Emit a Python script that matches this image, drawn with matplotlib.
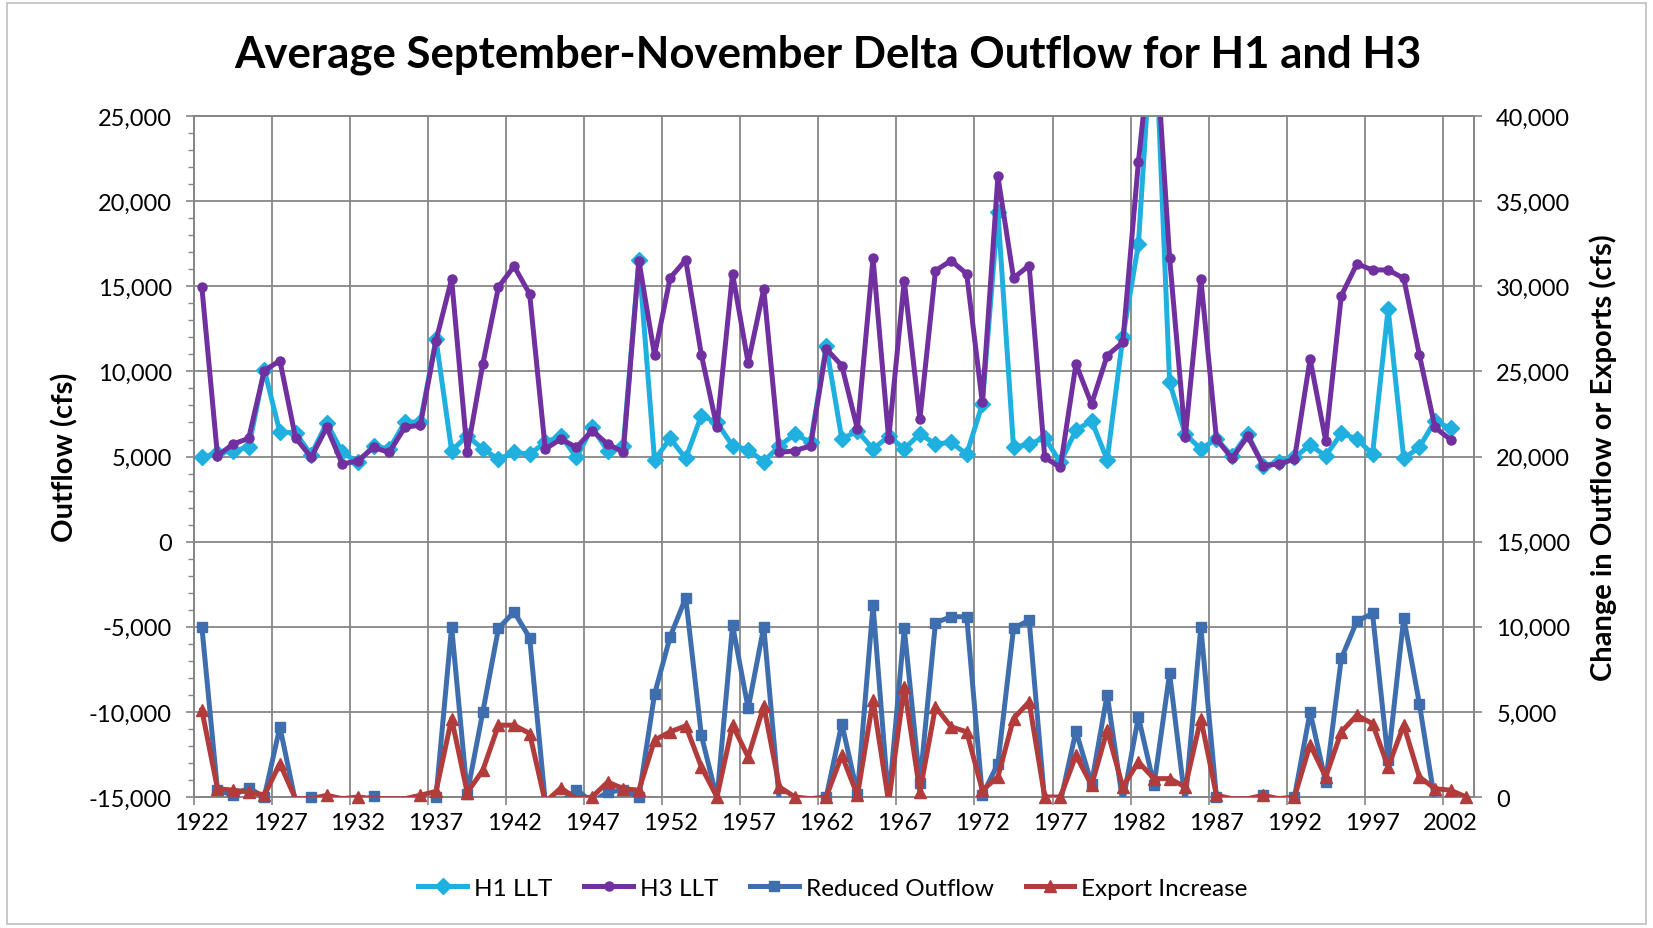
import numpy as np
import matplotlib
matplotlib.use("Agg")
import matplotlib.pyplot as plt
from matplotlib.lines import Line2D
from matplotlib.patches import Rectangle
from matplotlib.ticker import FuncFormatter, MultipleLocator, FixedLocator

plt.rcParams['font.family'] = ['Lato', 'DejaVu Sans']

# Water years 1922-2003
years = list(range(1922, 2004))

# Primary axis (cfs) - H1 / H3 outflow, nan = no value
h1_llt = [4950, 5200, 5340, 5540, 10100, 6420, 6400, 5100, 6970, 5240,
          4650, 5630, 5440, 7000, 7040, 11900, 5340, 6220, 5440, 4850,
          5240, 5140, 5830, 6220, 4950, 6710, 5340, 5630, 16550, 4790,
          6070, 4890, 7400, 7000, 5630, 5400, 4700, 5630, 6320, 5830,
          11510, 6030, 6500, 5440, 6190, 5460, 6320, 5740, 5830, 5140,
          8080, 19350, 5540, 5730, 6110, 4650, 6550, 7100, 4810, 12000,
          17460, 32000, 9360, 6320, 5440, 6030, 5040, 6320, 4460, 4650,
          4950, 5670, 5040, 6360, 6030, 5140, 13670, 4890, 5540, 7100,
          6650, np.nan]
h3_llt = [14950, 5050, 5730, 6070, 10050, 10630, 6100, 4950, 6710, 4560,
          4750, 5540, 5240, 6710, 6850, 11800, 15430, 5240, 10440, 14950,
          16180, 14550, 5440, 6030, 5540, 6520, 5730, 5270, 16510, 10960,
          15490, 16550, 10980, 6710, 15730, 10500, 14850, 5240, 5340, 5630,
          11320, 10340, 6610, 16650, 6030, 15330, 7200, 15920, 16510, 15730,
          8180, 21450, 15490, 16220, 4950, 4360, 10440, 8080, 10930, 11710,
          22300, 31000, 16650, 6120, 15430, 6030, 4890, 6190, 4460, 4560,
          4850, 10730, 5930, 14450, 16320, 15960, 15960, 15470, 10980, 6710,
          5990, np.nan]

# Secondary axis (cfs) - change in outflow / exports (negatives fall below the axis)
reduced_outflow = [10000, 400, 100, 530, 0, 4120, -300, 0, -300, -300,
                   -300, 50, -300, -300, -300, 0, 10000, 200, 5000, 9900,
                   10880, 9350, -300, -300, 430, -300, 300, 400, 0, 6040,
                   9410, 11700, 3630, -100, 10100, 5200, 10000, -300, -300, -300,
                   0, 4310, 200, 11270, -300, 9900, 800, 10240, 10590, 10590,
                   100, 1960, 9900, 10390, -300, -300, 3870, 790, 6020, -300,
                   4710, 690, 7260, -300, 10000, 0, -300, -300, 140, -300,
                   0, 5000, 880, 8140, 10330, 10780, 2160, 10530, 5490, -300,
                   np.nan, np.nan]
export_increase = [5100, 490, 400, 300, 100, 1960, -100, -100, 100, -100,
                   0, -100, -100, -100, 100, 330, 4610, 260, 1570, 4220,
                   4220, 3730, -300, 530, -100, 0, 880, 490, 400, 3340,
                   3830, 4180, 1770, 0, 4220, 2350, 5350, 590, 0, -100,
                   0, 2450, 100, 5690, -300, 6470, 300, 5300, 4120, 3830,
                   400, 1180, 4610, 5590, 0, 0, 2450, 690, 3920, 590,
                   2060, 1080, 1080, 590, 4610, 100, -100, -100, 100, -100,
                   0, 3080, 1180, 3830, 4800, 4310, 1770, 4220, 1180, 490,
                   400, 0]

x = np.arange(len(years))
grid_col = "#868686"

fig = plt.figure(figsize=(16.53, 9.29), dpi=100)
ax = fig.add_axes([0.1174, 0.141, 0.7743, 0.733])
ax2 = ax.twinx()


def draw(a, vals, color, marker, ms, lo, hi, z):
    y = np.array(vals, dtype=float)
    a.plot(x, y, color=color, lw=3.6, zorder=z, solid_joinstyle='round')
    ok = (y >= lo) & (y <= hi)
    a.plot(x[ok], y[ok], ls='none', marker=marker, ms=ms, color=color,
           mec=color, clip_on=False, zorder=z + 0.1)


draw(ax, h1_llt, "#1FB0E0", "D", 8.5, -15000, 25000, 3)
draw(ax, h3_llt, "#7030A0", "o", 6.5, -15000, 25000, 4)
draw(ax2, reduced_outflow, "#3F6EAE", "s", 7.5, 0, 40000, 3)
draw(ax2, export_increase, "#B23B3B", "^", 8, 0, 40000, 4)

ax.set_xlim(-0.5, len(years) - 0.5)
ax.set_ylim(-15000, 25000)
ax2.set_ylim(0, 40000)

# category style x axis: labels on the years, grid between categories
ax.xaxis.set_major_locator(FixedLocator(x[::5]))
ax.set_xticklabels([str(y) for y in years[::5]])
ax.xaxis.set_minor_locator(FixedLocator(np.arange(-0.5, len(years), 5)))
ax.tick_params(axis='x', which='major', length=0, labelsize=17, pad=11)
ax.tick_params(axis='x', which='minor', length=6, color=grid_col, width=1.2)
ax.grid(True, which='minor', axis='x', color=grid_col, lw=1.3)

fmt = FuncFormatter(lambda v, p: f"{int(v):,}")
ax.yaxis.set_major_locator(MultipleLocator(5000))
ax.yaxis.set_minor_locator(MultipleLocator(1000))
ax.yaxis.set_major_formatter(fmt)
ax.tick_params(axis='y', which='major', length=6, color=grid_col, width=1.2, labelsize=17, pad=10)
ax.tick_params(axis='y', which='minor', length=4, color=grid_col, width=1.0)
ax.grid(True, which='major', axis='y', color=grid_col, lw=1.3)
ax.set_axisbelow(True)

ax2.yaxis.set_major_locator(MultipleLocator(5000))
ax2.yaxis.set_major_formatter(fmt)
ax2.tick_params(axis='y', which='major', length=6, color=grid_col, width=1.2, labelsize=17, pad=10)

for a in (ax, ax2):
    for s in a.spines.values():
        s.set_color(grid_col)
        s.set_linewidth(1.3)

ax.set_ylabel("Outflow (cfs)", fontsize=21, fontweight='bold')
ax.yaxis.set_label_coords(-0.09, 0.5)
ax2.set_ylabel("Change in Outflow or Exports (cfs)", fontsize=21, fontweight='bold')
ax2.yaxis.set_label_coords(1.09, 0.5)

fig.text(0.501, 0.941, "Average September-November Delta Outflow for H1 and H3",
         ha='center', va='center', fontsize=31.5, fontweight='bold')

handles = [
    Line2D([0], [0], color="#1FB0E0", lw=3.6, marker="D", ms=8.5, label="H1 LLT"),
    Line2D([0], [0], color="#7030A0", lw=3.6, marker="o", ms=6.5, label="H3 LLT"),
    Line2D([0], [0], color="#3F6EAE", lw=3.6, marker="s", ms=7.5, label="Reduced Outflow"),
    Line2D([0], [0], color="#B23B3B", lw=3.6, marker="^", ms=8, label="Export Increase"),
]
fig.legend(handles=handles, loc='center', bbox_to_anchor=(0.504, 0.043), ncol=4,
           frameon=False, fontsize=17.5, handlelength=2.0, columnspacing=1.3, handletextpad=0.3)

# chart area border
fig.patches.append(Rectangle((0.004, 0.004), 0.992, 0.992, transform=fig.transFigure,
                             fill=False, ec="#BFBFBF", lw=1.2))

fig.savefig("out.png", dpi=100)
